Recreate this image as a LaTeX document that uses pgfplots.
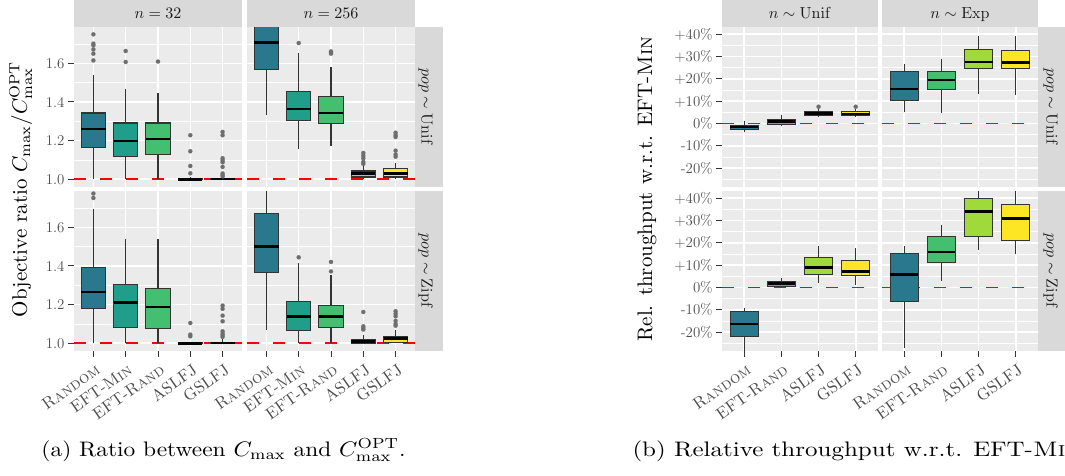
\documentclass[border=0pt]{standalone}
\usepackage{pgfplots}
\pgfplotsset{compat=1.18}
\usepgfplotslibrary{statistics}
\definecolor{cR}{HTML}{2A788E}
\definecolor{cM}{HTML}{1F9E89}
\definecolor{cD}{HTML}{44BF70}
\definecolor{cA}{HTML}{9FDA3A}
\definecolor{cG}{HTML}{FDE725}
\definecolor{pbg}{HTML}{EBEBEB}
\definecolor{sbg}{HTML}{D9D9D9}
\definecolor{g30}{HTML}{4D4D4D}
\definecolor{g20}{HTML}{333333}
\definecolor{g10}{HTML}{1A1A1A}
\definecolor{hred}{HTML}{FF0000}
\definecolor{outl}{HTML}{6E6E6E}
\pgfplotsset{
 panel/.style={scale only axis, anchor=north west, height=160pt,
  axis background/.style={fill=pbg}, axis line style={draw=none},
  xmajorgrids, ymajorgrids, yminorgrids,
  major grid style={white, line width=1.6pt},
  minor grid style={white, line width=0.8pt},
  tick align=outside, major tick length=6pt, minor tick length=0pt,
  tick style={g20, line width=1pt},
  xtick pos=left, ytick pos=left,
  yticklabel style={font=\fontsize{14.9}{15}\selectfont, text=g30},
  xticklabel style={font=\fontsize{10}{12}\selectfont, scale=1.65, text=g30, rotate=35, anchor=north east, xshift=2pt},
 },
 lfig/.style={panel, width=168pt, xmin=0.4, xmax=5.6, xtick={1,2,3,4,5},
  ymin=0.96, ymax=1.788, ytick={1,1.2,1.4,1.6}, minor ytick={1.1,1.3,1.5,1.7},
  yticklabels={1.0,1.2,1.4,1.6},
  xticklabels={\textsc{Random},EFT-\textsc{Min},EFT-\textsc{Rand},ASLFJ,GSLFJ}},
 rfig/.style={panel, width=156pt, xmin=0.4, xmax=4.6, xtick={1,2,3,4},
  ymin=-28.45, ymax=43.2, ytick={-20,-10,0,10,20,30,40}, minor ytick={-25,-15,-5,5,15,25,35},
  yticklabels={-20\%,-10\%,0\%,+10\%,+20\%,+30\%,+40\%},
  xticklabels={\textsc{Random},EFT-\textsc{Rand},ASLFJ,GSLFJ}},
 nox/.style={xticklabels={}, xtick style={draw=none}},
 noy/.style={yticklabels={}, ytick style={draw=none}},
 bxs/.style={draw=g20, line width=1.1pt, mark=*, mark size=2.1pt,
  mark options={draw=outl, fill=outl, line width=0.1pt, solid},
  boxplot/draw direction=y,
  boxplot/box extend=0.75, boxplot/whisker extend=0,
  boxplot/every median/.style={draw=black, line width=2.6pt}},
 hl/.style={draw=hred, color=hred, line width=1.6pt, dash pattern=on 12pt off 14pt, mark=none, forget plot},
}
\newcommand{\bp}[8]{\addplot[bxs, fill=#2, boxplot prepared={draw position=#1, lower whisker=#3, lower quartile=#4, median=#5, upper quartile=#6, upper whisker=#7}] coordinates {#8};}
\newcommand{\zl}{\draw[hred, line width=1.6pt, dash pattern=on 12pt off 14pt] (axis cs:0.4,0) -- (axis cs:4.6,0);}
\begin{document}
\begin{tikzpicture}
\path[use as bounding box] (0pt,0pt) rectangle (1065pt,-475pt);
% strips
\fill[sbg] (74pt,0pt) rectangle (242pt,-27pt);
\fill[sbg] (247pt,0pt) rectangle (415pt,-27pt);
\fill[sbg] (415pt,-27pt) rectangle (443pt,-187pt);
\fill[sbg] (415pt,-191pt) rectangle (443pt,-351pt);
\fill[sbg] (722pt,0pt) rectangle (878pt,-27pt);
\fill[sbg] (882pt,0pt) rectangle (1038pt,-27pt);
\fill[sbg] (1038pt,-27pt) rectangle (1066pt,-187pt);
\fill[sbg] (1038pt,-191pt) rectangle (1066pt,-351pt);
\node[anchor=base, scale=1.6, text=g10] at (158pt,-18.5pt) {$n = 32$};
\node[anchor=base, scale=1.6, text=g10] at (331pt,-18.5pt) {$n = 256$};
\node[anchor=base, scale=1.6, text=g10] at (800pt,-18.5pt) {$n \sim \mathrm{Unif}$};
\node[anchor=base, scale=1.6, text=g10] at (960pt,-18.5pt) {$n \sim \mathrm{Exp}$};
\node[anchor=base, rotate=-90, scale=1.6, text=g10] at (421.5pt,-107pt) {$pop \sim \mathrm{Unif}$};
\node[anchor=base, rotate=-90, scale=1.6, text=g10] at (421.5pt,-271pt) {$pop \sim \mathrm{Zipf}$};
\node[anchor=base, rotate=-90, scale=1.6, text=g10] at (1046.5pt,-107pt) {$pop \sim \mathrm{Unif}$};
\node[anchor=base, rotate=-90, scale=1.6, text=g10] at (1046.5pt,-271pt) {$pop \sim \mathrm{Zipf}$};
% axis titles
\node[anchor=base, rotate=90, scale=2.1] at (27pt,-189pt) {Objective ratio $C_{\max}/C_{\max}^{\mathrm{OPT}}$};
\node[anchor=base, rotate=90, scale=2.1] at (652pt,-189pt) {Rel. throughput w.r.t. EFT-\textsc{Min}};
% captions
\node[anchor=base west, xscale=2.34, yscale=2.1, inner sep=0pt] at (41pt,-456pt) {(a) Ratio between $C_{\max}$ and $C_{\max}^{\mathrm{OPT}}$.};
\node[anchor=base west, xscale=2.5, yscale=2.1, inner sep=0pt] at (632pt,-456pt) {(b) Relative throughput w.r.t. EFT-\textsc{Min}};

% ---------- left figure ----------
\begin{axis}[lfig, nox, at={(74pt,-27pt)}]
\addplot[hl] coordinates {(0.4,1) (5.6,1)};
\bp{1}{cR}{1.0}{1.166}{1.26}{1.343}{1.54}{(0,1.75) (0,1.702) (0,1.693) (0,1.672) (0,1.65) (0,1.615)}
\bp{2}{cM}{1.0}{1.117}{1.198}{1.291}{1.469}{(0,1.664) (0,1.607)}
\bp{3}{cD}{1.0}{1.129}{1.209}{1.291}{1.447}{(0,1.609)}
\bp{4}{cA}{1.0}{1.0}{1.0}{1.004}{1.01}{(0,1.228) (0,1.145) (0,1.069) (0,1.031)}
\bp{5}{cG}{1.0}{1.0}{1.001}{1.005}{1.012}{(0,1.245) (0,1.228) (0,1.109) (0,1.098) (0,1.088) (0,1.064) (0,1.03) (0,1.02) (0,1.015)}
\end{axis}
\begin{axis}[lfig, nox, noy, at={(247pt,-27pt)}]
\addplot[hl] coordinates {(0.4,1) (5.6,1)};
\bp{1}{cR}{1.331}{1.569}{1.707}{1.85}{2.1}{}
\bp{2}{cM}{1.155}{1.305}{1.364}{1.453}{1.655}{(0,1.705)}
\bp{3}{cD}{1.172}{1.288}{1.343}{1.428}{1.581}{(0,1.662) (0,1.655) (0,1.650)}
\bp{4}{cA}{1.0}{1.012}{1.029}{1.043}{1.072}{(0,1.136) (0,1.122) (0,1.109) (0,1.09) (0,1.08)}
\bp{5}{cG}{1.0}{1.012}{1.029}{1.057}{1.084}{(0,1.241) (0,1.228) (0,1.219) (0,1.148) (0,1.128) (0,1.117)}
\end{axis}
\begin{axis}[lfig, at={(74pt,-191pt)}]
\addplot[hl] coordinates {(0.4,1) (5.6,1)};
\bp{1}{cR}{1.0}{1.178}{1.266}{1.39}{1.697}{(0,1.775) (0,1.752)}
\bp{2}{cM}{1.0}{1.081}{1.212}{1.303}{1.54}{}
\bp{3}{cD}{1.0}{1.078}{1.188}{1.284}{1.54}{}
\bp{4}{cA}{1.0}{1.0}{1.0}{1.003}{1.008}{(0,1.105) (0,1.045) (0,1.036)}
\bp{5}{cG}{1.0}{1.0}{1.001}{1.005}{1.03}{(0,1.195) (0,1.178) (0,1.143) (0,1.114) (0,1.062) (0,1.05) (0,1.041) (0,1.033)}
\end{axis}
\begin{axis}[lfig, noy, at={(247pt,-191pt)}]
\addplot[hl] coordinates {(0.4,1) (5.6,1)};
\bp{1}{cR}{1.067}{1.367}{1.502}{1.671}{1.95}{}
\bp{2}{cM}{1.0}{1.066}{1.14}{1.217}{1.416}{(0,1.445)}
\bp{3}{cD}{1.0}{1.081}{1.14}{1.195}{1.355}{(0,1.421) (0,1.372)}
\bp{4}{cA}{1.0}{1.0}{1.009}{1.021}{1.045}{(0,1.162) (0,1.088) (0,1.079) (0,1.071)}
\bp{5}{cG}{1.0}{1.005}{1.026}{1.036}{1.071}{(0,1.166) (0,1.153) (0,1.14) (0,1.116) (0,1.1) (0,1.091)}
\end{axis}

% ---------- right figure ----------
\begin{axis}[rfig, nox, at={(722pt,-27pt)}]
\zl
\bp{1}{cR}{-4.0}{-2.7}{-1.6}{-0.75}{1.2}{}
\bp{2}{cD}{-1.0}{-0.45}{0.9}{1.9}{3.9}{}
\bp{3}{cA}{2.7}{3.6}{4.5}{5.4}{6.4}{(0,7.5)}
\bp{4}{cG}{2.7}{3.4}{4.3}{5.2}{6.3}{(0,7.5)}
\end{axis}
\begin{axis}[rfig, nox, noy, at={(882pt,-27pt)}]
\zl
\bp{1}{cR}{5.2}{10.4}{15.5}{23.4}{26.7}{}
\bp{2}{cD}{4.5}{15.1}{19.4}{23.1}{29.0}{}
\bp{3}{cA}{13.4}{24.6}{27.6}{33.1}{39.1}{}
\bp{4}{cG}{12.8}{24.5}{27.3}{32.7}{39.1}{}
\end{axis}
\begin{axis}[rfig, at={(722pt,-191pt)}]
\zl
\bp{1}{cR}{-31}{-21.8}{-16.4}{-10.7}{-9.0}{}
\bp{2}{cD}{-0.45}{0.6}{1.8}{2.7}{4.2}{}
\bp{3}{cA}{1.9}{6.0}{9.0}{13.4}{18.7}{}
\bp{4}{cG}{1.2}{5.5}{7.2}{12.2}{17.5}{}
\end{axis}
\begin{axis}[rfig, noy, at={(882pt,-191pt)}]
\zl
\bp{1}{cR}{-26.9}{-6.3}{5.8}{15.1}{18.5}{}
\bp{2}{cD}{3.1}{11.3}{15.8}{22.7}{27.9}{}
\bp{3}{cA}{16.6}{22.7}{33.9}{40.0}{48}{}
\bp{4}{cG}{15.1}{21.0}{30.9}{37.3}{48}{}
\end{axis}
\end{tikzpicture}
\end{document}
